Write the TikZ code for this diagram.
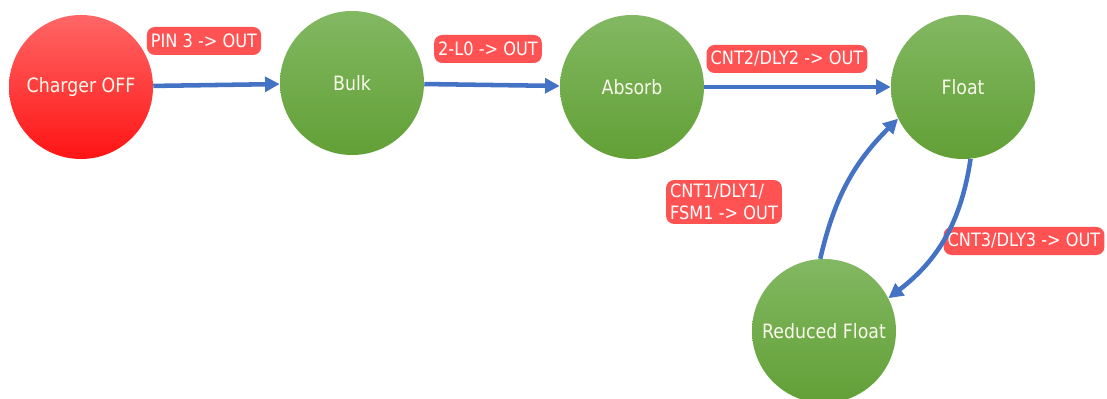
\documentclass[tikz,border=0pt]{standalone}
\usepackage{fontspec}
\setmainfont{DejaVu Sans}
\newfontfamily\condfont[FakeStretch=0.88]{DejaVu Sans}
\usetikzlibrary{arrows.meta}
\definecolor{arrowblue}{HTML}{4472C4}
\definecolor{labelred}{HTML}{FF5252}
\definecolor{redtop}{HTML}{FF6666}
\definecolor{redbot}{HTML}{FF1414}
\definecolor{greentop}{HTML}{82B862}
\definecolor{greenbot}{HTML}{62A036}
\definecolor{statetext}{HTML}{FAFAEC}
\tikzset{
  state/.style={circle, minimum size=108pt, inner sep=0pt, shading=axis,
    top color=greentop, bottom color=greenbot, text=statetext,
    font=\condfont\fontsize{14.8}{17}\selectfont},
  offstate/.style={state, top color=redtop, bottom color=redbot},
  lbl/.style={fill=labelred, rounded corners=6pt, text=white, inner xsep=3pt,
    inner ysep=3pt, minimum height=21pt, align=left,
    font=\condfont\fontsize{13.8}{16.5}\selectfont},
  conn/.style={draw=arrowblue, line width=3.4pt,
    -{Triangle[length=11pt,width=11pt]}}
}
\begin{document}
\begin{tikzpicture}[x=0.75pt,y=0.75pt]
\useasboundingbox (0,0) rectangle (1107,-399);
\node[offstate] (co) at (81,-87) {Charger OFF};
\node[state] (bu) at (352,-83) {Bulk};
\node[state] (ab) at (632,-87) {Absorb};
\node[state] (fl) at (963,-87) {Float};
\node[state] (rf) at (824,-331) {Reduced Float};
\node[lbl] (l1) at (204,-41) {PIN 3 -> OUT};
\node[lbl] (l2) at (488,-49) {2-L0 -> OUT};
\node[lbl] (l3) at (787,-59) {CNT2/DLY2 -> OUT};
\node[lbl] (l4) at (724,-202) {CNT1/DLY1/\\FSM1 -> OUT};
\node[lbl] (l5) at (1024,-241) {CNT3/DLY3 -> OUT};
\draw[conn] (co) -- (bu);
\draw[conn] (bu) -- (ab);
\draw[conn] (ab) -- (fl);
\draw[conn] (fl.-84) to[bend left=22] (rf.27);
\draw[conn] (rf.93) to[bend left=16] (fl.206);
\end{tikzpicture}
\end{document}
